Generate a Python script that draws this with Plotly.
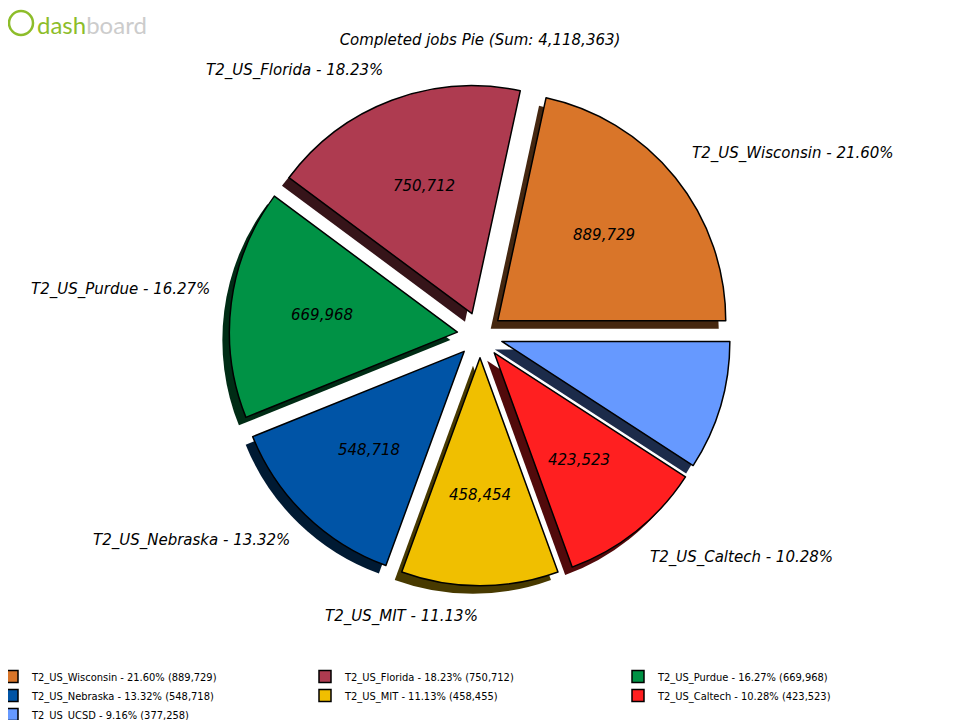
import math
import plotly.graph_objects as go

# ---- data ----
sites = ["T2_US_Wisconsin", "T2_US_Florida", "T2_US_Purdue", "T2_US_Nebraska",
         "T2_US_MIT", "T2_US_Caltech", "T2_US_UCSD"]
jobs = [889729, 750712, 669968, 548718, 458454, 423523, 377258]
percents = ["21.60%", "18.23%", "16.27%", "13.32%", "11.13%", "10.28%", "9.16%"]
legend_values = ["889,729", "750,712", "669,968", "548,718", "458,455", "423,523", "377,258"]
inside_values = ["889,729", "750,712", "669,968", "548,718", "458,454", "423,523", ""]
outside_labels = ["T2_US_Wisconsin - 21.60%", "T2_US_Florida - 18.23%", "T2_US_Purdue - 16.27%",
                  "T2_US_Nebraska - 13.32%", "T2_US_MIT - 11.13%", "T2_US_Caltech - 10.28%", ""]
colors = ["#d97529", "#ae3b50", "#009245", "#0054a6", "#f0bf00", "#ff1f20", "#6699ff"]
shadow_colors = ["#452710", "#361419", "#002c15", "#001a33", "#483a00", "#520a0b", "#1c2b4a"]
title_text = "Completed jobs Pie (Sum: 4,118,363)"

legend_labels = [f"{s} - {p} ({v})" for s, p, v in zip(sites, percents, legend_values)]

# ---- geometry (figure pixels; page adds an 8px body margin) ----
W, H = 960, 720
MB = 80                    # bottom margin: legend sits below the plot area
PH = H - MB                # plot-area height
CX, CY = 472, 327          # pie centre in pixels (from top)
R = 228                    # pie radius
PULL = 0.1
VALUE_DIST = 0.6 + PULL    # inside value distance (in pie radii)
LABEL_DIST = 1.185         # outside label distance (in pie radii)
XR, YR = 1.5, 1.3          # half ranges of the hidden label axes (pie radii)
# first slice starts at 3 o'clock and the pie runs counter-clockwise
ROT = 90 - 360 * jobs[0] / sum(jobs)


def py(p):
    """figure pixel (from top) -> paper y"""
    return (PH - p) / PH


def domain(cx, cy, half):
    return dict(x=[(cx - half) / W, (cx + half) / W],
                y=[py(cy + half), py(cy - half)])


half_main = R * (1 + PULL)
ital = dict(family="DejaVu Sans", size=15, color="black", style="italic")
common = dict(labels=legend_labels, values=jobs, sort=False,
              direction="counterclockwise", rotation=ROT)

fig = go.Figure()

# shadow
fig.add_trace(go.Pie(
    **common, pull=PULL, domain=domain(CX - 7, CY + 8, half_main),
    marker=dict(colors=shadow_colors, line=dict(width=0)),
    textinfo="none", showlegend=False, hoverinfo="skip",
))

# main pie
fig.add_trace(go.Pie(
    **common, pull=PULL, domain=domain(CX, CY, half_main),
    marker=dict(colors=colors, line=dict(color="black", width=1.5)),
    textinfo="none", showlegend=True,
))

# ---- slice labels, placed on hidden axes centred on the pie (units = pie radius) ----
total = sum(jobs)
annotations = []
cum = 0
for v, val_txt, lab_txt in zip(jobs, inside_values, outside_labels):
    mid = 2 * math.pi * (cum + v / 2) / total
    cum += v
    c, s = math.cos(mid), math.sin(mid)
    if val_txt:
        annotations.append(dict(
            text=val_txt, x=VALUE_DIST * c, y=VALUE_DIST * s, xref="x", yref="y",
            xanchor="center", yanchor="middle", showarrow=False, font=ital))
    if lab_txt:
        annotations.append(dict(
            text=lab_txt, x=LABEL_DIST * c, y=LABEL_DIST * s, xref="x", yref="y",
            xanchor="left" if c > 0 else "right", yanchor="bottom" if s > 0 else "top",
            showarrow=False, font=ital))

annotations.append(dict(
    text="<span style='color:#8dbd2a'>dash</span><span style='color:#cccccc'>board</span>",
    x=27 / W, y=py(16), xref="paper", yref="paper", xanchor="left", yanchor="middle",
    showarrow=False, font=dict(family="Lato", size=24)))

hidden = dict(visible=False, showgrid=False, zeroline=False, fixedrange=True)

fig.update_layout(
    width=W, height=H,
    margin=dict(l=0, r=0, t=0, b=MB, autoexpand=False),
    paper_bgcolor="white", plot_bgcolor="rgba(0,0,0,0)",
    xaxis=dict(**hidden, range=[-XR, XR],
               domain=[(CX - XR * R) / W, (CX + XR * R) / W]),
    yaxis=dict(**hidden, range=[-YR, YR],
               domain=[py(CY + YR * R), py(CY - YR * R)]),
    title=dict(text=title_text, x=(480 - 8) / W, xanchor="center", y=1 - 32 / H,
               yanchor="middle",
               font=dict(family="DejaVu Sans", size=15, color="black", style="italic")),
    legend=dict(orientation="h", xref="paper", yref="paper",
                x=-16 / W, xanchor="left", y=py(654), yanchor="top",
                entrywidth=268, entrywidthmode="pixels",
                font=dict(family="DejaVu Sans Condensed, Liberation Sans Narrow, DejaVu Sans",
                          size=11, color="black"),
                traceorder="normal"),
    annotations=annotations,
    shapes=[dict(type="circle", xref="paper", yref="paper",
                 x0=1 / W, x1=25 / W, y0=py(27), y1=py(3),
                 line=dict(color="#8dbd2a", width=2.5))],
)

fig.write_html("out.html")
